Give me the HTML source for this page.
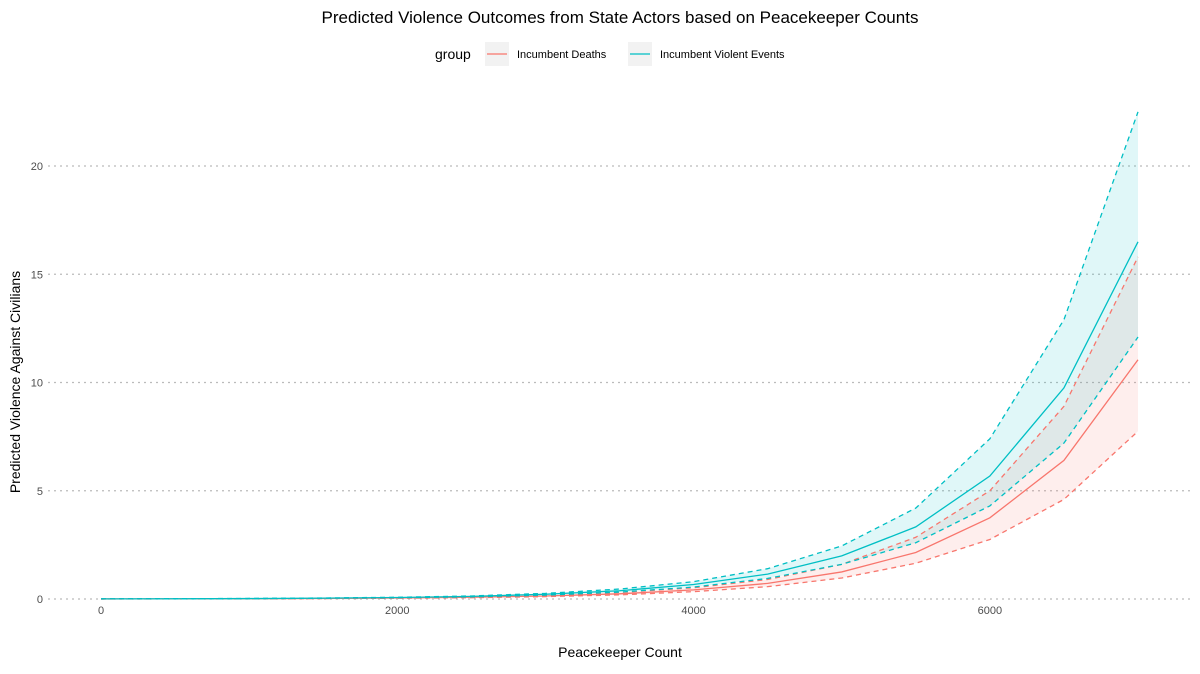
<!DOCTYPE html>
<html><head><meta charset="utf-8">
<style>
body{margin:0;background:#fff;font-family:"Liberation Sans",sans-serif;}
svg text{font-family:"Liberation Sans",sans-serif;}
</style></head>
<body>
<svg id="chart" width="1200" height="669" xmlns="http://www.w3.org/2000/svg">
<text x="620" y="23" font-size="17" text-anchor="middle" fill="#000">Predicted Violence Outcomes from State Actors based on Peacekeeper Counts</text>
<g>
<text x="435" y="59" font-size="14" fill="#000">group</text>
<g>
<rect x="485" y="42" width="24" height="24" fill="#f2f2f2"/>
<line x1="487" y1="54" x2="507" y2="54" stroke="#F8766D" stroke-width="1.2"/>
<text x="517" y="58" font-size="11" fill="#000">Incumbent Deaths</text>
</g>
<g>
<rect x="628" y="42" width="24" height="24" fill="#f2f2f2"/>
<line x1="630" y1="54" x2="650" y2="54" stroke="#00BFC4" stroke-width="1.2"/>
<text x="660" y="58" font-size="11" fill="#000">Incumbent Violent Events</text>
</g>
</g>
<g id="grid"></g>
<g id="plot"></g>
<g id="axes"></g>
<text x="620" y="657" font-size="14" text-anchor="middle" fill="#000">Peacekeeper Count</text>
<text transform="translate(20,382) rotate(-90)" font-size="14" text-anchor="middle" fill="#000">Predicted Violence Against Civilians</text>
</svg>
<script>
const xValues=[0,500,1000,1500,2000,2500,3000,3500,4000,4500,5000,5500,6000,6500,7000];
const eventsMean=[0.005,0.01,0.02,0.04,0.07,0.12,0.22,0.38,0.67,1.15,1.99,3.33,5.68,9.75,16.5];
const eventsUpper=[0.006,0.012,0.025,0.045,0.08,0.14,0.26,0.46,0.8,1.4,2.45,4.2,7.4,12.9,22.5];
const eventsLower=[0.004,0.008,0.017,0.035,0.06,0.1,0.18,0.32,0.55,0.95,1.6,2.6,4.3,7.2,12.1];
const deathsMean=[0.003,0.006,0.012,0.025,0.045,0.08,0.14,0.24,0.42,0.72,1.25,2.15,3.75,6.4,11.05];
const deathsUpper=[0.004,0.008,0.016,0.03,0.055,0.1,0.17,0.3,0.52,0.9,1.6,2.85,5.0,8.9,15.8];
const deathsLower=[0.002,0.005,0.009,0.02,0.035,0.06,0.11,0.19,0.34,0.57,0.97,1.65,2.75,4.6,7.75];
const xTicks=[0,2000,4000,6000];
const yTicks=[0,5,10,15,20];
const NS='http://www.w3.org/2000/svg';
const X=v=>101+v*(1138-101)/7000;
const Y=v=>599-v*21.65;
function mk(tag,attrs,parent){const e=document.createElementNS(NS,tag);for(const k in attrs)e.setAttribute(k,attrs[k]);parent.appendChild(e);return e;}
const grid=document.getElementById('grid'),plot=document.getElementById('plot'),axes=document.getElementById('axes');
yTicks.forEach(t=>{
 const l=mk('line',{x1:48,x2:1192,y1:Y(t),y2:Y(t),stroke:'#bbb','stroke-width':1.3,'stroke-dasharray':'2,4'},grid);
 
 
 const tx=mk('text',{x:43,y:Y(t)+4,'font-size':11,'text-anchor':'end',fill:'#4d4d4d'},axes);
 tx.textContent=t;
 
 
});
xTicks.forEach(t=>{
 const tx=mk('text',{x:X(t),y:614,'font-size':11,'text-anchor':'middle',fill:'#4d4d4d'},axes);
 tx.textContent=t;
 
 
});
function pts(arr){return xValues.map((x,i)=>X(x)+','+Y(arr[i])).join(' ');}
function ribbon(up,lo,color,name){
 const p=xValues.map((x,i)=>X(x)+','+Y(up[i])).concat(xValues.slice().reverse().map((x,j)=>{const i=xValues.length-1-j;return X(x)+','+Y(lo[i]);}));
 const e=mk('polygon',{points:p.join(' '),fill:color,'fill-opacity':0.12},plot);
 
 
}
function line(arr,color,dash,name){
 const e=mk('polyline',{points:pts(arr),fill:'none',stroke:color,'stroke-width':1.3,'stroke-dasharray':dash},plot);
 
 
}
ribbon(deathsUpper,deathsLower,'#F8766D','deaths-ribbon');
ribbon(eventsUpper,eventsLower,'#00BFC4','events-ribbon');
line(deathsUpper,'#F8766D','5,4','deaths-upper-line');
line(deathsLower,'#F8766D','5,4','deaths-lower-line');
line(deathsMean,'#F8766D','none','deaths-mean-line');
line(eventsUpper,'#00BFC4','5,4','events-upper-line');
line(eventsLower,'#00BFC4','5,4','events-lower-line');
line(eventsMean,'#00BFC4','none','events-mean-line');
</script>
</body></html>
